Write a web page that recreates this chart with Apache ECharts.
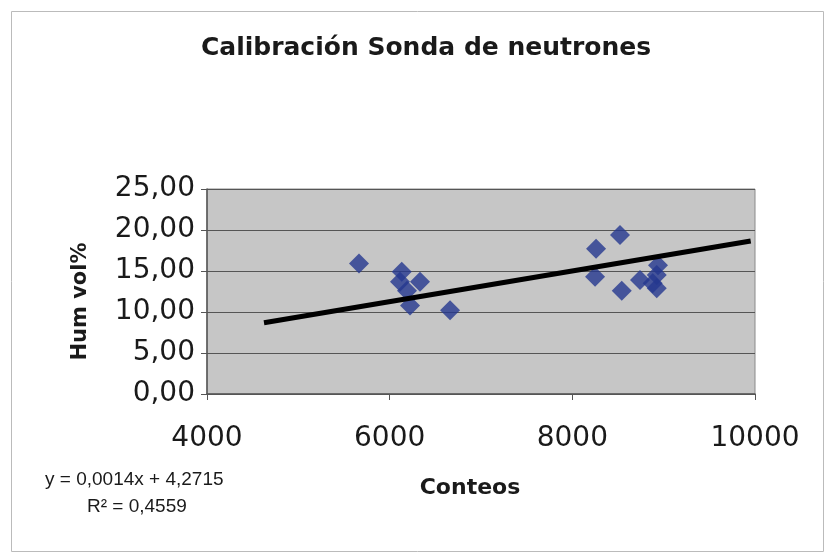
<!DOCTYPE html>
<html>
<head>
<meta charset="utf-8">
<script src="https://cdn.jsdelivr.net/npm/echarts@6/dist/echarts.min.js"></script>
<style>
html,body{margin:0;padding:0;background:#fff;}
#c{width:826px;height:553px;}
</style>
</head>
<body>
<div id="c"></div>
<script>
var conteos = [5664, 6132, 6113, 6332, 6190, 6223, 6661, 8522, 8260, 8249, 8541, 8741, 8924, 8938, 8924, 8880];
var humVol  = [15.9, 14.9, 13.7, 13.7, 12.6, 10.8, 10.2, 19.4, 17.7, 14.3, 12.6, 13.9, 12.9, 15.7, 14.5, 13.5];
var trendX = [4624, 9953];
var trendY = [8.7, 18.66];
var xTicks = [4000, 6000, 8000, 10000];
var yTicks = [0, 5, 10, 15, 20, 25];

var pts = conteos.map(function (x, i) { return [x, humVol[i]]; });
var trend = trendX.map(function (x, i) { return [x, trendY[i]]; });

var chart = echarts.init(document.getElementById('c'));
chart.setOption({
  animation: false,
  backgroundColor: '#ffffff',
  title: {
    text: 'Calibración Sonda de neutrones',
    left: 421, top: 31, textAlign: 'center',
    textStyle: { fontFamily: 'DejaVu Sans', fontWeight: 'bold', fontSize: 25, color: '#1a1a1a' }
  },
  grid: {
    left: 207, top: 189, width: 548, height: 205,
    show: true, backgroundColor: '#c6c6c6', borderColor: '#8a8a8a', borderWidth: 1
  },
  xAxis: {
    type: 'value', min: xTicks[0], max: xTicks[xTicks.length - 1], interval: 2000,
    name: 'Conteos', nameLocation: 'middle', nameGap: 83,
    nameTextStyle: { fontFamily: 'DejaVu Sans', fontWeight: 'bold', fontSize: 22, color: '#1a1a1a', padding: [0, 22, 0, 0] },
    axisLine: { show: true, lineStyle: { color: '#555', width: 1.5 } },
    axisTick: { show: true, inside: false, length: 6, lineStyle: { color: '#555' } },
    axisLabel: {
      fontFamily: 'DejaVu Sans', fontSize: 28, color: '#1a1a1a', margin: 31,
      formatter: function (v) { return String(v); }
    },
    splitLine: { show: false }
  },
  yAxis: {
    type: 'value', min: yTicks[0], max: yTicks[yTicks.length - 1], interval: 5,
    name: 'Hum vol%', nameLocation: 'middle', nameGap: 116, nameRotate: 90,
    nameTextStyle: { fontFamily: 'DejaVu Sans', fontWeight: 'bold', fontSize: 21, color: '#1a1a1a', padding: [0, 20, 0, 0] },
    axisLine: { show: true, lineStyle: { color: '#555', width: 1.5 } },
    axisTick: { show: true, inside: false, length: 6, lineStyle: { color: '#555' } },
    axisLabel: {
      fontFamily: 'DejaVu Sans', fontSize: 28, color: '#1a1a1a', margin: 12,
      formatter: function (v) { return v.toFixed(2).replace('.', ','); }
    },
    splitLine: { show: true, lineStyle: { color: '#555', width: 1 } }
  },
  graphic: [
    { type: 'rect', left: 9, top: 9, shape: { width: 812, height: 540 }, style: { fill: 'none', stroke: '#bbbbbb', lineWidth: 1 } },
    { type: 'text', left: 45, top: 470, style: { text: 'y = 0,0014x + 4,2715', font: '19px "Liberation Sans", Arial', fill: '#1a1a1a' } },
    { type: 'text', left: 87, top: 497, style: { text: 'R² = 0,4559', font: '19px "Liberation Sans", Arial', fill: '#1a1a1a' } }
  ],
  series: [
    {
      type: 'scatter', data: pts, symbol: 'diamond', symbolSize: [20, 20],
      itemStyle: { color: '#24378f' }, z: 2
    },
    {
      type: 'line', data: trend, symbol: 'none', z: 3,
      lineStyle: { color: '#000', width: 5 }
    }
  ]
});
</script>
</body>
</html>
